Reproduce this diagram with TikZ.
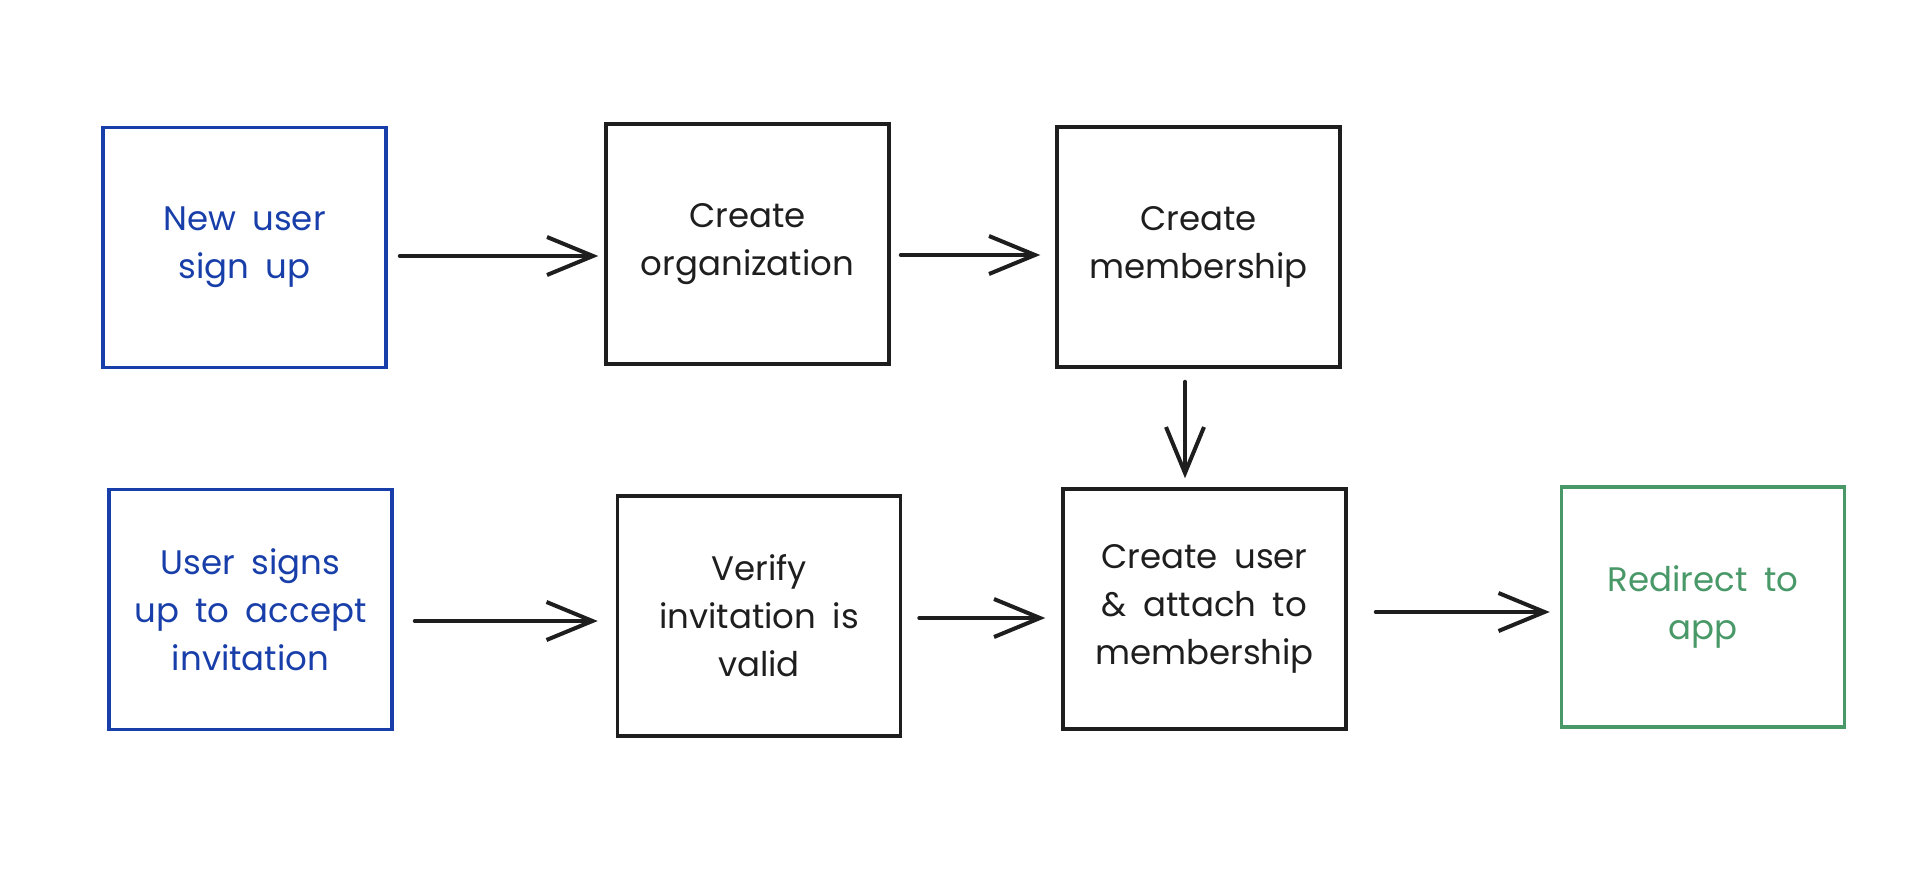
\documentclass[tikz,border=0pt]{standalone}
\usepackage{fontspec}
\setmainfont{Poppins}[WordSpace=1.8]
\usetikzlibrary{arrows.meta}
\definecolor{inkblack}{RGB}{30,30,30}
\definecolor{inkblue}{RGB}{24,62,170}
\definecolor{inkgreen}{RGB}{72,152,104}
\tikzset{
  box/.style={draw=inkblack, text=inkblack, line width=3.5pt, rectangle, inner sep=0pt,
    minimum width=283pt, minimum height=240pt, align=center,
    font=\fontsize{34}{48}\selectfont},
  bluebox/.style={box, draw=inkblue, text=inkblue},
  greenbox/.style={box, draw=inkgreen, text=inkgreen},
  flow/.style={draw=inkblack, line width=4pt, line cap=round,
    -{Straight Barb[length=46pt,width=38pt,line width=4pt]}},
}
\begin{document}
\begin{tikzpicture}[x=1pt,y=-1pt]
\useasboundingbox (0,0) rectangle (1920,870);
\node[bluebox]  (signup)  at (244.5,247.5) {New user\\sign up};
\node[box]      (org)     at (747.5,244)   {Create\\organization};
\node[box]      (member)  at (1198.5,247)  {Create\\membership};
\node[bluebox]  (invite)  at (250.5,609.5) {User signs\\up to accept\\invitation};
\node[box]      (verify)  at (759,616)     {Verify\\invitation is\\valid};
\node[box]      (attach)  at (1204.5,609)  {Create user\\\& attach to\\membership};
\node[greenbox] (redirect) at (1703,607)   {Redirect to\\app};
\draw[flow] ([xshift=12pt]signup.east |- 0,256) -- ([xshift=-6pt]org.west |- 0,256);
\draw[flow] ([xshift=10pt]org.east |- 0,255) -- ([xshift=-15pt]member.west |- 0,255);
\draw[flow] ([yshift=-13pt]member.south -| 1185,0) -- ([yshift=9pt]attach.north -| 1185,0);
\draw[flow] ([xshift=21pt]invite.east |- 0,621) -- ([xshift=-18pt]verify.west |- 0,621);
\draw[flow] ([xshift=17pt]verify.east |- 0,618) -- ([xshift=-16pt]attach.west |- 0,618);
\draw[flow] ([xshift=28pt]attach.east |- 0,612) -- ([xshift=-10pt]redirect.west |- 0,612);
\end{tikzpicture}
\end{document}
